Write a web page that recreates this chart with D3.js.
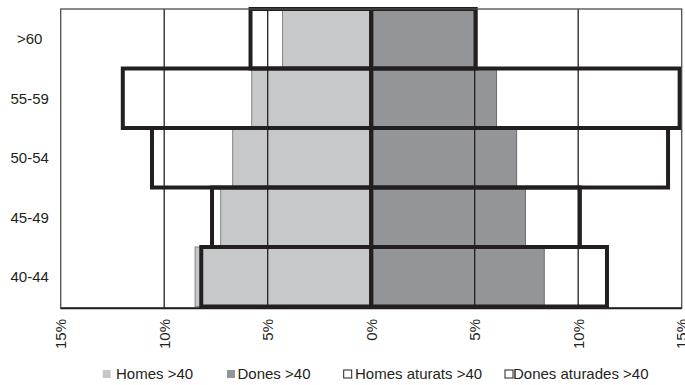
<!DOCTYPE html>
<html>
<head>
<meta charset="utf-8">
<script src="https://cdn.jsdelivr.net/npm/d3@7"></script>
<style>
  html, body { margin: 0; padding: 0; background: #fff; }
  svg { display: block; }
  text { font-family: "Liberation Sans", Arial, Helvetica, sans-serif; fill: #231f20; }
</style>
</head>
<body>
<svg id="chart" width="685" height="385"></svg>
<script>
// Age groups (top to bottom)
const categories = [">60", "55-59", "50-54", "45-49", "40-44"];
// Percentages
const homes = [4.28, 5.77, 6.69, 7.27, 8.51];          // Homes >40 (left)
const dones = [4.95, 6.06, 7.03, 7.46, 8.36];          // Dones >40 (right)
const homesAturats = [5.83, 12.0, 10.59, 7.69, 8.21];  // Homes aturats >40 (left)
const donesAturades = [5.05, 14.9, 14.34, 10.08, 11.39]; // Dones aturades >40 (right)
const tickValues = [-15, -10, -5, 0, 5, 10, 15];
const tickLabels = ["15%", "10%", "5%", "0%", "5%", "10%", "15%"];
const legendLabels = ["Homes >40", "Dones >40", "Homes aturats >40", "Dones aturades >40"];

(function () {
const svg = d3.select("#chart");
const pL = 60.7, pR = 681.7, pT = 9, pB = 306.5, axisY = 308.3;

const x = d3.scaleLinear().domain([-15, 15]).range([pL, pR]);
const y = d3.scaleBand().domain(categories).range([pT, pB]).padding(0);

const lightGray = "#c7c8ca", darkGray = "#939598", ink = "#231f20";

svg.append("rect").attr("x", pL).attr("y", pT).attr("width", pR - pL).attr("height", axisY - pT)
  .attr("fill", "#fff");

// gray bars
const g = svg.append("g");
g.selectAll("rect.h").data(categories).join("rect").attr("class", "h")
  .attr("x", (d, i) => x(-homes[i])).attr("y", d => y(d))
  .attr("width", (d, i) => x(0) - x(-homes[i])).attr("height", y.bandwidth())
  .attr("fill", lightGray).attr("stroke", "#6d6e71").attr("stroke-width", 0.8);
g.selectAll("rect.d").data(categories).join("rect").attr("class", "d")
  .attr("x", x(0)).attr("y", d => y(d))
  .attr("width", (d, i) => x(dones[i]) - x(0)).attr("height", y.bandwidth())
  .attr("fill", darkGray).attr("stroke", "#58595b").attr("stroke-width", 0.8);

// gridlines
svg.append("g").selectAll("line").data([-10, -5, 5, 10]).join("line")
  .attr("x1", d => x(d)).attr("x2", d => x(d)).attr("y1", pT).attr("y2", axisY)
  .attr("stroke", ink).attr("stroke-width", 1.3);

// thick outline boxes
const ob = svg.append("g");
ob.selectAll("rect.ha").data(categories).join("rect").attr("class", "ha")
  .attr("x", (d, i) => x(-homesAturats[i])).attr("y", d => y(d))
  .attr("width", (d, i) => x(0) - x(-homesAturats[i])).attr("height", y.bandwidth())
  .attr("fill", "none").attr("stroke", ink).attr("stroke-width", 4);
ob.selectAll("rect.da").data(categories).join("rect").attr("class", "da")
  .attr("x", x(0)).attr("y", d => y(d))
  .attr("width", (d, i) => x(donesAturades[i]) - x(0)).attr("height", y.bandwidth())
  .attr("fill", "none").attr("stroke", ink).attr("stroke-width", 4);

// frame
svg.append("rect").attr("x", pL).attr("y", pT).attr("width", pR - pL).attr("height", axisY - pT)
  .attr("fill", "none").attr("stroke", "#4d4d4f").attr("stroke-width", 1.3);
svg.append("line").attr("x1", pL).attr("x2", pR).attr("y1", axisY).attr("y2", axisY)
  .attr("stroke", ink).attr("stroke-width", 2);

// y labels
svg.append("g").selectAll("text").data(categories).join("text")
  .attr("x", 29.7).attr("y", d => y(d) + y.bandwidth() / 2)
  .attr("dy", "0.35em").attr("text-anchor", "middle").attr("font-size", 15)
  .text(d => d);

// x tick labels (rotated)
svg.append("g").selectAll("text").data(tickValues).join("text")
  .attr("transform", d => `translate(${x(d)},319) rotate(-90)`)
  .attr("dy", "0.36em").attr("text-anchor", "end").attr("font-size", 15)
  .text((d, i) => tickLabels[i]);

// legend
const legX = [102.7, 227, 343.7, 505];
const legTX = [116, 237.5, 355, 513];
const legFill = [lightGray, darkGray, "#fff", "#fff"];
const legStroke = ["none", "none", ink, ink];
const leg = svg.append("g");
legendLabels.forEach((lab, i) => {
  leg.append("rect").attr("x", legX[i]).attr("y", 370).attr("width", 8).attr("height", 8)
    .attr("fill", legFill[i]).attr("stroke", legStroke[i]).attr("stroke-width", 1);
  leg.append("text").attr("x", legTX[i]).attr("y", 379.3).attr("font-size", 15).text(lab);
});
})();
</script>
</body>
</html>
